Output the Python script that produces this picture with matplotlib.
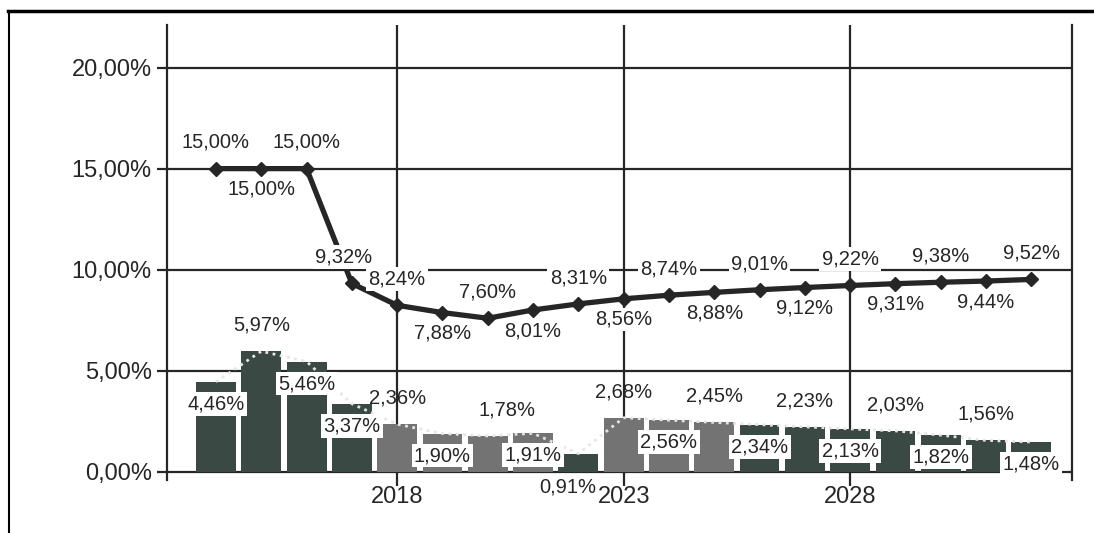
import matplotlib
matplotlib.use("Agg")
import matplotlib.pyplot as plt
from matplotlib.lines import Line2D

plt.rcParams['font.family'] = ['Liberation Sans', 'DejaVu Sans']

years = list(range(2014, 2033))
line_vals = [15.00, 15.00, 15.00, 9.32, 8.24, 7.88, 7.60, 8.01, 8.31, 8.56,
             8.74, 8.88, 9.01, 9.12, 9.22, 9.31, 9.38, 9.44, 9.52]
bar_vals = [4.46, 5.97, 5.46, 3.37, 2.36, 1.90, 1.78, 1.91, 0.91, 2.68,
            2.56, 2.45, 2.34, 2.23, 2.13, 2.03, 1.82, 1.56, 1.48]
# where each label sits: 'a' above the point, 'b' below, 'u' under the axis
line_pos = ['a', 'b', 'a', 'a', 'a', 'b', 'a', 'b', 'a', 'b',
            'a', 'b', 'a', 'b', 'a', 'b', 'a', 'b', 'a']
bar_pos = ['b', 'a', 'b', 'b', 'a', 'b', 'a', 'b', 'u', 'a',
           'b', 'a', 'b', 'a', 'b', 'a', 'b', 'a', 'b']
ytick_vals = [0, 5, 10, 15, 20]
xtick_years = [2018, 2023, 2028]

dark = '#262626'
bar_dark = '#3b4944'
bar_grey = '#737373'
grey_years = [2018, 2019, 2020, 2021, 2023, 2024, 2025]


def pct(v):
    return "{:.2f}%".format(v).replace('.', ',')


fig = plt.figure(figsize=(10.94, 5.33), dpi=100)
ax = fig.add_axes([0.1527, 0.0994, 0.8273, 0.8536])

# frame round the whole picture
fig.add_artist(Line2D([0.007, 1.0], [0.979, 0.979], transform=fig.transFigure,
                      color='black', lw=2.5))
fig.add_artist(Line2D([0.008, 0.008], [0.0, 0.979], transform=fig.transFigure,
                      color='black', lw=1.5))

# grid
for y in ytick_vals:
    ax.axhline(y, color=dark, lw=1.6, zorder=1)
for x in xtick_years:
    ax.axvline(x, color=dark, lw=1.6, zorder=1)

# bars
colors = [bar_grey if yr in grey_years else bar_dark for yr in years]
ax.bar(years, bar_vals, width=0.88, color=colors, zorder=2)
ax.plot(years, bar_vals, color='#e6e6e6', lw=2, ls=':', zorder=3)

# line
ax.plot(years, line_vals, color=dark, lw=3.8, marker='D', markersize=7, zorder=4)

fs = 14.5
box = dict(boxstyle='square,pad=0.12', fc='white', ec='none')
for yr, v, p in zip(years, line_vals, line_pos):
    if p == 'a':
        dx = -6 if yr == 2017 else 0
        ax.annotate(pct(v), (yr, v), xytext=(dx, 12), textcoords='offset points',
                    ha='center', va='bottom', fontsize=fs, color=dark, bbox=box, zorder=6)
    else:
        ax.annotate(pct(v), (yr, v), xytext=(0, -8), textcoords='offset points',
                    ha='center', va='top', fontsize=fs, color=dark, bbox=box, zorder=6)

for yr, v, p in zip(years, bar_vals, bar_pos):
    if p == 'a':
        dx = 14 if yr == 2020 else 0
        ax.annotate(pct(v), (yr, v), xytext=(dx, 12), textcoords='offset points',
                    ha='center', va='bottom', fontsize=fs, color=dark, zorder=6)
    elif p == 'u':
        ax.annotate(pct(v), (yr, 0), xytext=(-8, -4), textcoords='offset points',
                    ha='center', va='top', fontsize=fs, color=dark, zorder=6)
    else:
        ax.annotate(pct(v), (yr, v), xytext=(0, -9), textcoords='offset points',
                    ha='center', va='top', fontsize=fs, color=dark, bbox=box, zorder=6)

ax.set_xlim(2012.92, 2032.9)
ax.set_ylim(-0.4, 22.1)
ax.set_yticks(ytick_vals)
ax.set_yticklabels([pct(v) for v in ytick_vals], fontsize=17, color=dark)
ax.set_xticks(xtick_years)
ax.set_xticklabels([str(x) for x in xtick_years], fontsize=17, color=dark)
ax.tick_params(axis='y', length=7, width=1.6, color=dark, pad=4)
ax.tick_params(axis='x', length=4, width=1.6, color=dark, pad=0)

for side in ['top', 'bottom']:
    ax.spines[side].set_visible(False)
for side in ['left', 'right']:
    ax.spines[side].set_color(dark)
    ax.spines[side].set_linewidth(1.6)

fig.savefig("out.png", dpi=100)
